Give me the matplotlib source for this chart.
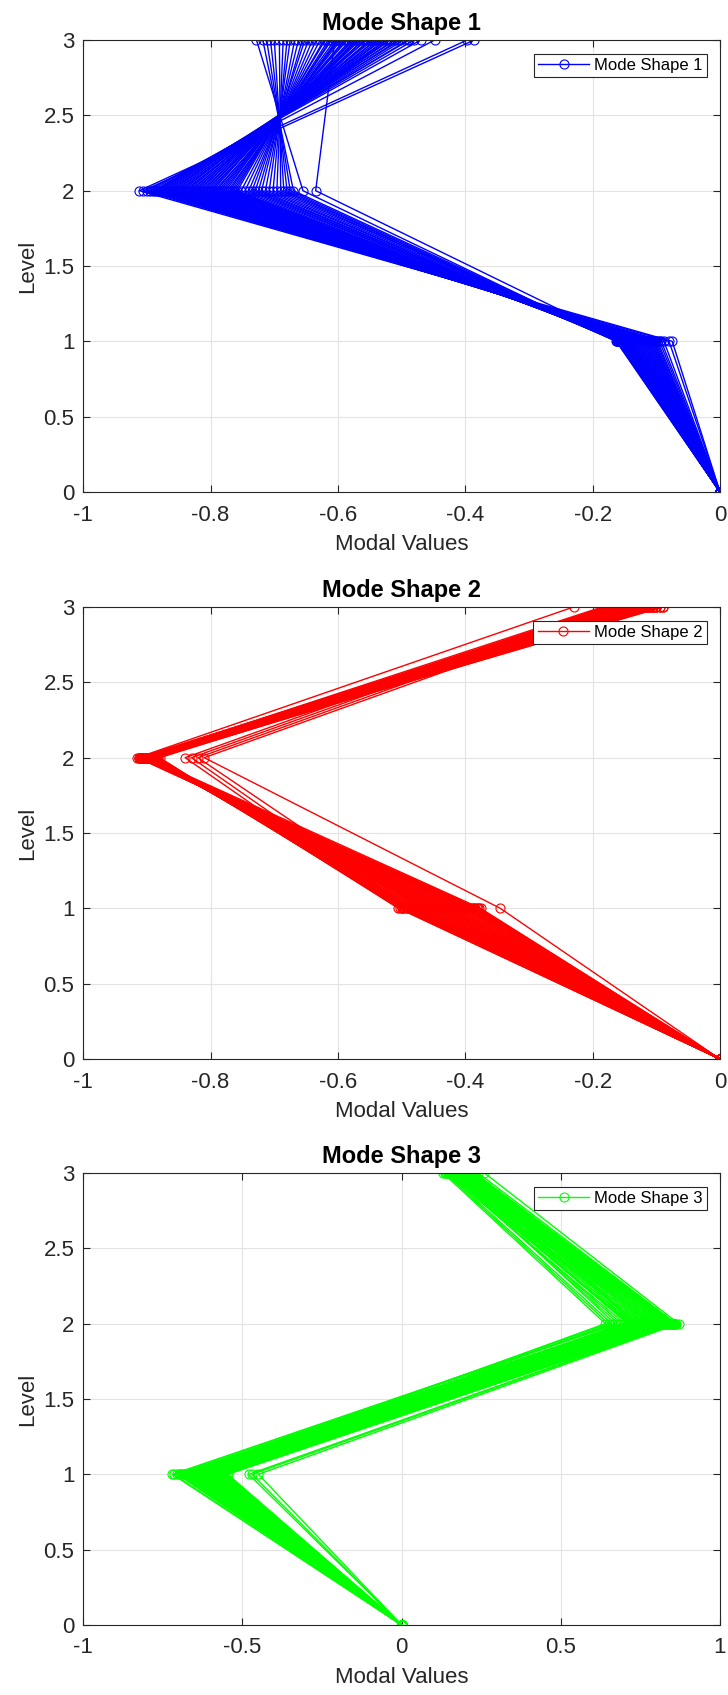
import numpy as np
import matplotlib
matplotlib.use("Agg")
import matplotlib.pyplot as plt

plt.rcParams['font.family'] = ['Liberation Sans', 'DejaVu Sans']
plt.rcParams['axes.unicode_minus'] = False

# storey levels (ground is always 0)
levels = [0, 1, 2, 3]

# mode shape 1 - modal values at levels 1, 2 and 3 for every sample
m1_l1 = [-0.080, -0.075, -0.088, -0.092, -0.095, -0.098, -0.100, -0.104, -0.102, -0.106,
         -0.108, -0.105, -0.110, -0.112, -0.109, -0.114, -0.116, -0.113, -0.118, -0.120,
         -0.117, -0.122, -0.124, -0.121, -0.126, -0.128, -0.125, -0.130, -0.132, -0.129,
         -0.134, -0.136, -0.133, -0.138, -0.140, -0.137, -0.142, -0.139, -0.144, -0.141,
         -0.146, -0.143, -0.148, -0.145, -0.150, -0.147, -0.152, -0.149,
         -0.150, -0.154, -0.151, -0.156, -0.153, -0.158, -0.155, -0.160, -0.157, -0.162,
         -0.159, -0.156, -0.161, -0.158, -0.163, -0.160, -0.157, -0.162, -0.150]
m1_l2 = [-0.912, -0.906, -0.900, -0.895, -0.890, -0.887, -0.884, -0.881, -0.878, -0.875,
         -0.872, -0.869, -0.866, -0.863, -0.860, -0.857, -0.854, -0.851, -0.848, -0.845,
         -0.842, -0.839, -0.836, -0.833, -0.830, -0.827, -0.824, -0.821, -0.818, -0.815,
         -0.812, -0.809, -0.806, -0.803, -0.800, -0.797, -0.794, -0.791, -0.788, -0.785,
         -0.782, -0.779, -0.776, -0.773, -0.770, -0.767, -0.764, -0.761,
         -0.758, -0.752, -0.746, -0.740, -0.735, -0.730, -0.725, -0.720, -0.714, -0.708,
         -0.702, -0.696, -0.690, -0.685, -0.680, -0.675, -0.670, -0.655, -0.635]
m1_l3 = [-0.397, -0.386, -0.448, -0.470, -0.480, -0.488, -0.490, -0.502, -0.497, -0.510,
         -0.505, -0.518, -0.512, -0.520, -0.525, -0.518, -0.530, -0.524, -0.535, -0.540,
         -0.532, -0.545, -0.548, -0.540, -0.555, -0.550, -0.560, -0.556, -0.565, -0.560,
         -0.570, -0.568, -0.575, -0.572, -0.580, -0.585, -0.578, -0.590, -0.588, -0.595,
         -0.598, -0.600, -0.605, -0.602, -0.610, -0.612, -0.615, -0.620,
         -0.622, -0.628, -0.634, -0.640, -0.646, -0.652, -0.656, -0.662, -0.668, -0.675,
         -0.680, -0.686, -0.692, -0.700, -0.706, -0.712, -0.718, -0.728, -0.605]

# mode shape 2
m2_l1 = [-0.505, -0.503, -0.500, -0.498, -0.496, -0.493, -0.490, -0.488, -0.485, -0.482,
         -0.480, -0.477, -0.474, -0.471, -0.468, -0.465, -0.462, -0.459, -0.456, -0.453,
         -0.450, -0.447, -0.444, -0.441, -0.438, -0.435, -0.432, -0.429, -0.426, -0.423,
         -0.420, -0.417, -0.414, -0.411, -0.408, -0.405, -0.402, -0.399, -0.396, -0.393,
         -0.390, -0.388, -0.386, -0.384, -0.382, -0.380, -0.378, -0.376, -0.460, -0.440,
         -0.500, -0.490, -0.470, -0.345, -0.400, -0.420, -0.480, -0.395, -0.430, -0.450]
m2_l2 = [-0.880, -0.884, -0.888, -0.882, -0.890, -0.886, -0.892, -0.884, -0.894, -0.888,
         -0.896, -0.890, -0.885, -0.898, -0.892, -0.887, -0.900, -0.894, -0.889, -0.902,
         -0.896, -0.891, -0.904, -0.898, -0.893, -0.906, -0.900, -0.895, -0.908, -0.902,
         -0.897, -0.910, -0.904, -0.899, -0.912, -0.906, -0.901, -0.908, -0.903, -0.910,
         -0.905, -0.912, -0.907, -0.900, -0.909, -0.903, -0.911, -0.898, -0.893, -0.897,
         -0.840, -0.830, -0.820, -0.810, -0.915, -0.905, -0.887, -0.913, -0.899, -0.891]
m2_l3 = [-0.120, -0.100, -0.140, -0.160, -0.110, -0.130, -0.150, -0.170, -0.095, -0.125,
         -0.145, -0.165, -0.105, -0.135, -0.155, -0.175, -0.115, -0.090, -0.140, -0.160,
         -0.180, -0.100, -0.120, -0.150, -0.170, -0.110, -0.130, -0.145, -0.185, -0.105,
         -0.125, -0.155, -0.095, -0.135, -0.165, -0.115, -0.140, -0.175, -0.100, -0.120,
         -0.150, -0.130, -0.160, -0.110, -0.145, -0.090, -0.125, -0.170, -0.180, -0.155,
         -0.180, -0.170, -0.160, -0.150, -0.230, -0.135, -0.115, -0.165, -0.105, -0.140]

# mode shape 3
m3_l1 = [-0.720, -0.716, -0.705, -0.695, -0.688, -0.682, -0.678, -0.674, -0.670, -0.666,
         -0.662, -0.658, -0.654, -0.650, -0.646, -0.642, -0.638, -0.634, -0.630, -0.626,
         -0.622, -0.618, -0.614, -0.610, -0.606, -0.602, -0.598, -0.594, -0.590, -0.586,
         -0.582, -0.578, -0.574, -0.570, -0.566, -0.562, -0.558, -0.554, -0.550, -0.546,
         -0.480, -0.470, -0.450, -0.660, -0.640, -0.620, -0.600, -0.580, -0.690, -0.675,
         -0.655, -0.635, -0.615, -0.595, -0.575, -0.560, -0.700, -0.668, -0.628, -0.608]
m3_l2 = [0.670, 0.680, 0.700, 0.710, 0.715, 0.720, 0.725, 0.730, 0.735, 0.740,
         0.745, 0.750, 0.755, 0.760, 0.765, 0.770, 0.775, 0.780, 0.785, 0.790,
         0.795, 0.800, 0.805, 0.810, 0.815, 0.820, 0.825, 0.828, 0.832, 0.836,
         0.840, 0.843, 0.846, 0.848, 0.850, 0.852, 0.854, 0.856, 0.858, 0.860,
         0.855, 0.862, 0.870, 0.640, 0.660, 0.690, 0.710, 0.740, 0.650, 0.760,
         0.780, 0.800, 0.820, 0.830, 0.845, 0.850, 0.720, 0.790, 0.810, 0.835]
m3_l3 = [0.160, 0.150, 0.140, 0.150, 0.160, 0.145, 0.170, 0.155, 0.175, 0.165,
         0.180, 0.150, 0.185, 0.160, 0.190, 0.170, 0.195, 0.175, 0.200, 0.180,
         0.205, 0.185, 0.210, 0.190, 0.215, 0.195, 0.220, 0.200, 0.225, 0.205,
         0.230, 0.210, 0.215, 0.220, 0.225, 0.200, 0.190, 0.210, 0.220, 0.230,
         0.220, 0.240, 0.260, 0.130, 0.140, 0.150, 0.160, 0.170, 0.135, 0.155,
         0.165, 0.175, 0.185, 0.195, 0.205, 0.215, 0.145, 0.170, 0.180, 0.190]

panels = [
    ("Mode Shape 1", (0, 0, 1), m1_l1, m1_l2, m1_l3, [-1, -0.8, -0.6, -0.4, -0.2, 0], 0.7097),
    ("Mode Shape 2", (1, 0, 0), m2_l1, m2_l2, m2_l3, [-1, -0.8, -0.6, -0.4, -0.2, 0], 0.3752),
    ("Mode Shape 3", (0, 1, 0), m3_l1, m3_l2, m3_l3, [-1, -0.5, 0, 0.5, 1], 0.0413),
]
yticks = [0, 0.5, 1, 1.5, 2, 2.5, 3]

fig = plt.figure(figsize=(7.28, 16.95), dpi=100)

for name, col, l1, l2, l3, xticks, bottom in panels:
    ax = fig.add_axes([0.1144, bottom, 0.8746, 0.2667])
    for i in range(len(l1)):
        ax.plot([0, l1[i], l2[i], l3[i]], levels, '-o', color=col, lw=1.0,
                ms=6.5, mfc='none', mew=0.8, label=name if i == 0 else None)

    ax.set_xlim(xticks[0], xticks[-1])
    ax.set_ylim(0, 3)
    ax.set_xticks(xticks)
    ax.set_xticklabels([f'{v:g}' for v in xticks])
    ax.set_yticks(yticks)
    ax.set_yticklabels([f'{v:g}' for v in yticks])
    ax.tick_params(direction='in', top=True, right=True, length=5, width=0.8,
                   color='#262626', labelcolor='#262626', labelsize=16)
    ax.tick_params(axis='x', pad=9)
    ax.tick_params(axis='y', pad=6.5)
    ax.grid(True, color='#e3e3e3', lw=0.8)
    ax.set_axisbelow(True)
    for s in ax.spines.values():
        s.set_color('#262626')
        s.set_linewidth(0.8)

    ax.set_title(name, fontsize=17, fontweight='bold', pad=7)
    ax.set_xlabel('Modal Values', fontsize=16, color='#262626')
    ax.set_ylabel('Level', fontsize=16, color='#262626')
    ax.xaxis.set_label_coords(0.5, -0.093)
    ax.yaxis.set_label_coords(-0.071, 0.5)

    leg = ax.legend(loc='upper right', bbox_to_anchor=(0.9796, 0.969), borderaxespad=0,
                    fontsize=12, fancybox=False, framealpha=1, edgecolor='#262626',
                    handlelength=3.1, handletextpad=0.3, borderpad=0.25)
    leg.get_frame().set_linewidth(0.8)

fig.savefig('out.png', dpi=100)
